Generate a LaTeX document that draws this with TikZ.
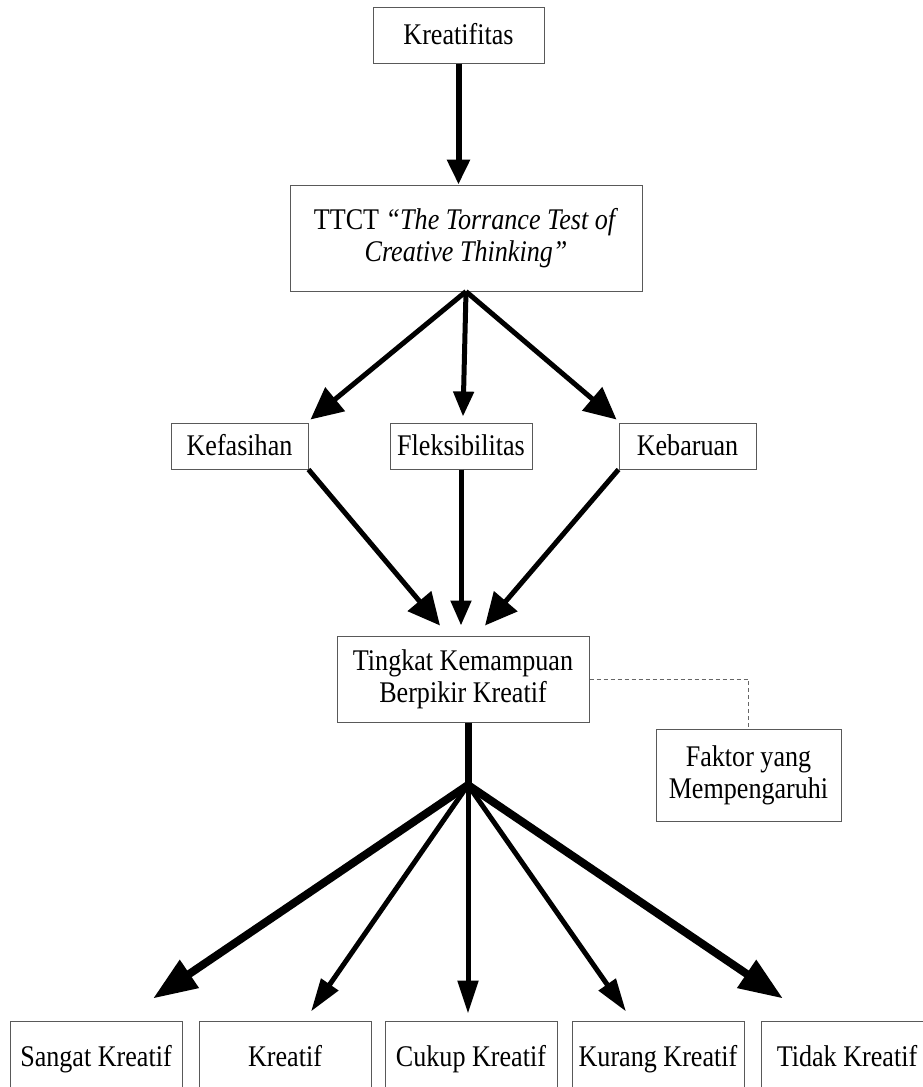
\documentclass[tikz,border=0pt]{standalone}
\usepackage{fontspec}
\setmainfont{Liberation Serif}[FakeStretch=0.87]
\usetikzlibrary{arrows.meta,positioning}
\tikzset{
  box/.style    ={draw=black!65, line width=0.5pt, align=center,
                  minimum width=#1, minimum height=23pt, inner sep=0pt,
                  font=\fontsize{15}{16}\selectfont},
  box/.default=70pt,
  onebox/.style ={box=#1, text height=11.5pt, text depth=2.5pt},
  arr/.style    ={-{Triangle[length=12.5pt,width=11pt]}, line width=3pt},
  sidearr/.style={-{Triangle[length=16pt,width=15pt]}, line width=2.5pt},
  midarr/.style ={-{Triangle[length=12.5pt,width=10pt]}, line width=2.5pt},
  stem/.style   ={line width=3.5pt},
  fanbig/.style ={-{Triangle[length=22pt,width=16pt]}, line width=4pt},
  fanmid/.style ={-{Triangle[length=16.5pt,width=10pt]}, line width=2.5pt},
  dline/.style  ={draw=black!60, line width=0.4pt, dash pattern=on 2pt off 1.5pt},
}

\begin{document}
\begin{tikzpicture}[x=0.5pt, y=-0.5pt]
  \useasboundingbox (0,0) rectangle (922,1087);

  % top part
  \node[onebox=85.5pt, minimum height=28pt] (kreatifitas) at (458.5,35) {Kreatifitas};
  \node[box=176pt, minimum height=53pt, below=60.5pt of kreatifitas, xshift=3.75pt]
        (ttct) {TTCT \textit{“The Torrance Test of}\\\textit{Creative Thinking”}};

  % three aspects
  \node[onebox=71pt, below=65.5pt of ttct, xshift=-2.5pt] (fleksibilitas) {Fleksibilitas};
  \node[onebox=68.5pt, left=40.5pt of fleksibilitas] (kefasihan) {Kefasihan};
  \node[onebox=68.5pt, right=43pt of fleksibilitas] (kebaruan) {Kebaruan};

  \node[box=126pt, minimum height=43pt, below=83pt of fleksibilitas, xshift=1pt]
        (tingkat) {Tingkat Kemampuan\\Berpikir Kreatif};
  \node[box=92.5pt, minimum height=46pt, below right=3pt and 33pt of tingkat.south east]
        (faktor) {Faktor yang\\Mempengaruhi};

  % categories
  \node[onebox=86pt, minimum height=36pt, below=149pt of tingkat, xshift=4pt] (cukup) {Cukup Kreatif};
  \node[onebox=86pt, minimum height=36pt, left=6.5pt of cukup] (kreatif) {Kreatif};
  \node[onebox=86pt, minimum height=36pt, left=8pt of kreatif] (sangat) {Sangat Kreatif};
  \node[onebox=86pt, minimum height=36pt, right=7pt of cukup] (kurang) {Kurang Kreatif};
  \node[onebox=86pt, minimum height=36pt, right=8pt of kurang] (tidak) {Tidak Kreatif};

  \coordinate (cabang) at (468,785);

  \draw[arr] (kreatifitas.south) -- (kreatifitas.south |- ttct.north);
  \draw[sidearr] (ttct.south) -- ([xshift=1pt,yshift=1.5pt]kefasihan.north east);
  \draw[midarr]  (ttct.south) -- ([xshift=1pt,yshift=3pt]fleksibilitas.north);
  \draw[sidearr] (ttct.south) -- ([xshift=-1pt,yshift=1.5pt]kebaruan.north west);

  \draw[sidearr] (kefasihan.south east)  -- ([xshift=-11.5pt,yshift=5pt]tingkat.north);
  \draw[midarr]  (fleksibilitas.south)   -- ([xshift=-1pt,yshift=5pt]tingkat.north);
  \draw[sidearr] (kebaruan.south west)   -- ([xshift=11pt,yshift=5pt]tingkat.north);

  \draw[dline] (tingkat.east) -| (faktor.north);

  \draw[stem] (tingkat.south -| cabang) -- (cabang);
  \draw[fanbig] (cabang) -- ([xshift=28.5pt,yshift=11pt]sangat.north);
  \draw[fanmid] (cabang) -- ([xshift=13pt,yshift=4.5pt]kreatif.north);
  \draw[fanmid] (cabang) -- ([xshift=-1.5pt,yshift=3.5pt]cukup.north);
  \draw[fanmid] (cabang) -- ([xshift=-16pt,yshift=4.5pt]kurang.north);
  \draw[fanbig] (cabang) -- ([xshift=-32pt,yshift=11pt]tidak.north);
\end{tikzpicture}
\end{document}
